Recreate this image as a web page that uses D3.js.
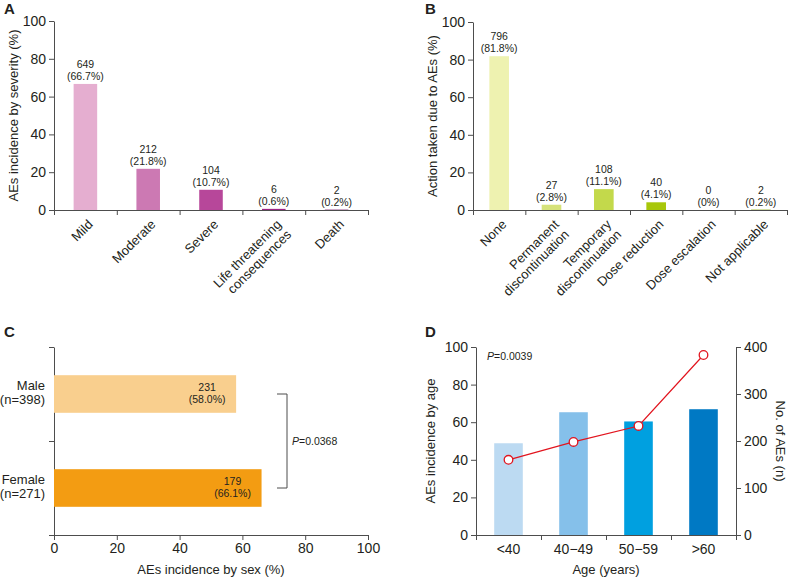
<!DOCTYPE html>
<html>
<head>
<meta charset="utf-8">
<script src="https://cdn.jsdelivr.net/npm/d3@7"></script>
<style>
  body { margin: 0; background: #fff; }
  svg { display: block; font-family: "Liberation Sans", Arial, sans-serif; }
  .axis path, .axis line { stroke: #4d4d4d; stroke-width: 1; }
  .axis text { fill: #231f20; font-size: 14px; }
</style>
</head>
<body>
<script>
// Panel A: severity
var severityCats = [["Mild"], ["Moderate"], ["Severe"], ["Life threatening", "consequences"], ["Death"]];
var severityCounts = [649, 212, 104, 6, 2];
var severityPct = [66.7, 21.8, 10.7, 0.6, 0.2];
var severityColors = ["#e5aed0", "#cc79b3", "#b7479a", "#9c2384", "#7d1a6c"];

// Panel B: action taken
var actionCats = [["None"], ["Permanent", "discontinuation"], ["Temporary", "discontinuation"], ["Dose reduction"], ["Dose escalation"], ["Not applicable"]];
var actionCounts = [796, 27, 108, 40, 0, 2];
var actionPct = [81.8, 2.8, 11.1, 4.1, 0, 0.2];
var actionColors = ["#eef2b0", "#d6e27a", "#c3d94b", "#a8c70a", "#8fb000", "#8aa700"];

// Panel C: sex
var sexCats = [["Male", "(n=398)"], ["Female", "(n=271)"]];
var sexCounts = [231, 179];
var sexPct = [58.0, 66.1];
var sexColors = ["#f9cf8e", "#f39c12"];

// Panel D: age
var ageCats = ["<40", "40\u221249", "50\u221259", ">60"];
var agePct = [48.8, 65.3, 60.4, 66.9];
var ageCounts = [160, 198, 232, 383];
var ageColors = ["#bcdaf2", "#85c0ea", "#00a0e0", "#0079c4"];

var pctTicks = [0, 20, 40, 60, 80, 100];
var countTicks = [0, 100, 200, 300, 400];

var textColor = "#231f20";
var svg = d3.select("body").append("svg").attr("width", 788).attr("height", 577);

function panelLetter(letter, x, y) {
  svg.append("text").attr("x", x).attr("y", y)
    .attr("font-size", 15).attr("font-weight", "bold").attr("fill", textColor)
    .text(letter);
}

function yTitle(label, x, y, angle) {
  svg.append("text")
    .attr("transform", "translate(" + x + "," + y + ") rotate(" + angle + ")")
    .attr("text-anchor", "middle").attr("dominant-baseline", "central")
    .attr("font-size", 13).attr("fill", textColor)
    .text(label);
}

// vertical bar chart with rotated category labels (A and B)
function drawColumnPanel(cats, counts, pct, colors, box, title) {
  var x = d3.scaleBand().domain(d3.range(cats.length)).range([box.x0, box.x1]).padding(0);
  var y = d3.scaleLinear().domain([0, 100]).range([box.y0, box.yTop]);
  var barW = x.step() * 0.375;

  var yAxis = svg.append("g").attr("class", "axis")
    .attr("transform", "translate(" + box.x0 + ",0)")
    .call(d3.axisLeft(y).tickValues(pctTicks).tickSize(5).tickPadding(3).tickSizeOuter(0));

  var edges = d3.scaleLinear().domain([0, cats.length]).range([box.x0, box.x1]);
  svg.append("g").attr("class", "axis")
    .attr("transform", "translate(0," + box.y0 + ")")
    .call(d3.axisBottom(edges).tickValues(d3.range(cats.length + 1)).tickFormat("").tickSize(5).tickSizeOuter(0));

  svg.append("g").selectAll("rect").data(pct).enter().append("rect")
    .attr("x", function (_, i) { return x(i) + (x.step() - barW) / 2; })
    .attr("y", function (d) { return y(d); })
    .attr("width", barW)
    .attr("height", function (d) { return box.y0 - y(d); })
    .attr("fill", function (_, i) { return colors[i]; });

  var labels = svg.append("g").selectAll("text").data(pct).enter().append("text")
    .attr("text-anchor", "middle").attr("font-size", 10.5).attr("fill", textColor)
    .attr("x", function (_, i) { return x(i) + x.step() / 2; })
    .attr("y", function (d) { return y(d) - 16; });
  labels.append("tspan").text(function (_, i) { return counts[i]; });
  labels.append("tspan")
    .attr("x", function (_, i) { return x(i) + x.step() / 2; })
    .attr("dy", 12)
    .text(function (d) { return "(" + d + "%)"; });

  // rotated category names
  svg.append("g").selectAll("text").data(cats).enter().append("text")
    .attr("transform", function (_, i) {
      return "translate(" + (x(i) + x.step() / 2 + 5) + "," + (box.y0 + 12) + ") rotate(-45)";
    })
    .attr("text-anchor", "end").attr("font-size", 13).attr("fill", textColor)
    .each(function (lines) {
      var t = d3.select(this);
      lines.forEach(function (line, k) {
        t.append("tspan").attr("x", 0).attr("dy", k === 0 ? "0.35em" : "1.1em").text(line);
      });
    });

  yTitle(title, box.titleX, (box.y0 + box.yTop) / 2, -90);
}

// Panel A
panelLetter("A", 4, 14);
drawColumnPanel(severityCats, severityCounts, severityPct, severityColors,
  { x0: 54, x1: 368, yTop: 21, y0: 210, titleX: 13 }, "AEs incidence by severity (%)");

// Panel B
panelLetter("B", 425, 14);
drawColumnPanel(actionCats, actionCounts, actionPct, actionColors,
  { x0: 473, x1: 787, yTop: 22, y0: 210, titleX: 432 }, "Action taken due to AEs (%)");

// Panel C: horizontal bars
(function () {
  var x0 = 54, x1 = 368, yTop = 347, y0 = 535;
  var x = d3.scaleLinear().domain([0, 100]).range([x0, x1]);
  var y = d3.scaleBand().domain(d3.range(sexCats.length)).range([yTop, y0]).padding(0);
  var barH = y.step() * 0.4;

  panelLetter("C", 4, 337);

  svg.append("g").attr("class", "axis")
    .attr("transform", "translate(0," + y0 + ")")
    .call(d3.axisBottom(x).tickValues(pctTicks).tickSize(5).tickPadding(3).tickSizeOuter(0));

  var edges = d3.scaleLinear().domain([0, sexCats.length]).range([yTop, y0]);
  svg.append("g").attr("class", "axis")
    .attr("transform", "translate(" + x0 + ",0)")
    .call(d3.axisLeft(edges).tickValues(d3.range(sexCats.length + 1)).tickFormat("").tickSize(5).tickSizeOuter(0));

  svg.append("g").selectAll("rect").data(sexPct).enter().append("rect")
    .attr("x", x0)
    .attr("y", function (_, i) { return y(i) + (y.step() - barH) / 2; })
    .attr("width", function (d) { return x(d) - x0; })
    .attr("height", barH)
    .attr("fill", function (_, i) { return sexColors[i]; });

  var labels = svg.append("g").selectAll("text").data(sexPct).enter().append("text")
    .attr("text-anchor", "middle").attr("font-size", 10.5).attr("fill", textColor)
    .attr("y", function (_, i) { return y(i) + y.step() / 2 - 3; });
  labels.append("tspan")
    .attr("x", function (d) { return x(d) - 29; })
    .text(function (_, i) { return sexCounts[i]; });
  labels.append("tspan")
    .attr("x", function (d) { return x(d) - 29; })
    .attr("dy", 12)
    .text(function (d) { return "(" + d.toFixed(1) + "%)"; });

  svg.append("g").selectAll("text").data(sexCats).enter().append("text")
    .attr("text-anchor", "end").attr("font-size", 13).attr("fill", textColor)
    .attr("y", function (_, i) { return y(i) + y.step() / 2 - 4; })
    .each(function (lines) {
      var t = d3.select(this);
      lines.forEach(function (line, k) {
        t.append("tspan").attr("x", x0 - 9).attr("dy", k === 0 ? 0 : 14).text(line);
      });
    });

  // significance bracket between bar centres
  var ya = y(0) + y.step() / 2, yb = y(1) + y.step() / 2;
  var bx = 287;
  svg.append("path")
    .attr("d", "M" + (bx - 10) + "," + ya + "H" + bx + "V" + yb + "H" + (bx - 10))
    .attr("fill", "none").attr("stroke", "#4d4d4d").attr("stroke-width", 1);
  var p = svg.append("text").attr("x", bx + 5).attr("y", (ya + yb) / 2 + 4)
    .attr("font-size", 10.5).attr("fill", textColor);
  p.append("tspan").attr("font-style", "italic").text("P");
  p.append("tspan").text("=0.0368");

  svg.append("text").attr("x", (x0 + x1) / 2).attr("y", 574)
    .attr("text-anchor", "middle").attr("font-size", 13).attr("fill", textColor)
    .text("AEs incidence by sex (%)");
})();

// Panel D: bars + line on a second axis
(function () {
  var x0 = 476, x1 = 736, yTop = 347, y0 = 535;
  var x = d3.scaleBand().domain(d3.range(ageCats.length)).range([x0, x1]).padding(0);
  var y = d3.scaleLinear().domain([0, 100]).range([y0, yTop]);
  var y2 = d3.scaleLinear().domain([0, 400]).range([y0, yTop]);
  var barW = x.step() * 0.44;

  panelLetter("D", 425, 337);

  svg.append("g").attr("class", "axis")
    .attr("transform", "translate(" + x0 + ",0)")
    .call(d3.axisLeft(y).tickValues(pctTicks).tickSize(5).tickPadding(3).tickSizeOuter(0));
  svg.append("g").attr("class", "axis")
    .attr("transform", "translate(" + x1 + ",0)")
    .call(d3.axisRight(y2).tickValues(countTicks).tickSize(5).tickPadding(3).tickSizeOuter(0));

  var edges = d3.scaleLinear().domain([0, ageCats.length]).range([x0, x1]);
  svg.append("g").attr("class", "axis")
    .attr("transform", "translate(0," + y0 + ")")
    .call(d3.axisBottom(edges).tickValues(d3.range(ageCats.length + 1)).tickFormat("").tickSize(5).tickSizeOuter(0));

  svg.append("g").selectAll("text").data(ageCats).enter().append("text")
    .attr("x", function (_, i) { return x(i) + x.step() / 2; })
    .attr("y", 554)
    .attr("text-anchor", "middle").attr("font-size", 14).attr("fill", textColor)
    .text(function (d) { return d; });

  svg.append("g").selectAll("rect").data(agePct).enter().append("rect")
    .attr("x", function (_, i) { return x(i) + (x.step() - barW) / 2; })
    .attr("y", function (d) { return y(d); })
    .attr("width", barW)
    .attr("height", function (d) { return y0 - y(d); })
    .attr("fill", function (_, i) { return ageColors[i]; });

  var line = d3.line()
    .x(function (_, i) { return x(i) + x.step() / 2; })
    .y(function (d) { return y2(d); });
  svg.append("path").datum(ageCounts).attr("d", line)
    .attr("fill", "none").attr("stroke", "#e2141e").attr("stroke-width", 1.2);
  svg.append("g").selectAll("circle").data(ageCounts).enter().append("circle")
    .attr("cx", function (_, i) { return x(i) + x.step() / 2; })
    .attr("cy", function (d) { return y2(d); })
    .attr("r", 4.3)
    .attr("fill", "#fff").attr("stroke", "#e2141e").attr("stroke-width", 1.3);

  var p = svg.append("text").attr("x", 487).attr("y", 360)
    .attr("font-size", 10.5).attr("fill", textColor);
  p.append("tspan").attr("font-style", "italic").text("P");
  p.append("tspan").text("=0.0039");

  yTitle("AEs incidence by age", 430, (y0 + yTop) / 2, -90);
  yTitle("No. of AEs (n)", 780, (y0 + yTop) / 2, 90);

  svg.append("text").attr("x", (x0 + x1) / 2).attr("y", 574)
    .attr("text-anchor", "middle").attr("font-size", 13).attr("fill", textColor)
    .text("Age (years)");
})();
</script>
</body>
</html>
